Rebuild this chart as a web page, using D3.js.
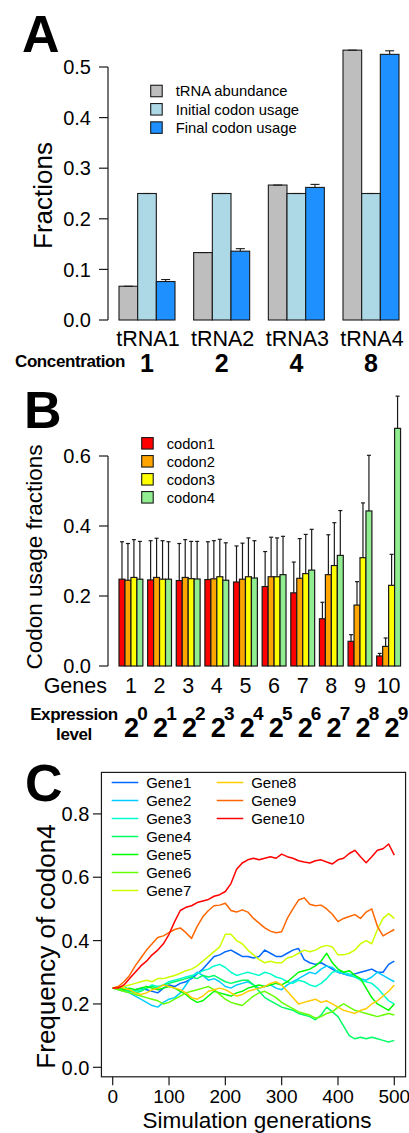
<!DOCTYPE html>
<html>
<head>
<meta charset="utf-8">
<script src="https://cdn.jsdelivr.net/npm/d3@7"></script>
<style>
  body { margin: 0; background: #fff; }
  svg { display: block; }
  text { font-family: "Liberation Sans", Arial, Helvetica, sans-serif; fill: #000; }
</style>
</head>
<body>
<svg id="fig" width="409" height="1133"></svg>
<script>
// ---------- Panel A: tRNA abundance vs codon usage ----------
const trnaNames = ["tRNA1", "tRNA2", "tRNA3", "tRNA4"];
const concentrations = ["1", "2", "4", "8"];
const seriesA = ["tRNA abundance", "Initial codon usage", "Final codon usage"];
const trnaAbundance = [0.0667, 0.1333, 0.2667, 0.5333];
const initialUsage = [0.25, 0.25, 0.25, 0.25];
const finalUsage = [0.076, 0.136, 0.262, 0.525];
const abundanceSd = [0, 0, 0, 0];
const initialSd = [0, 0, 0, 0];
const finalSd = [0.004, 0.005, 0.006, 0.007];
const ticksA = [0, 0.1, 0.2, 0.3, 0.4, 0.5];
const colorsA = ["#bebebe", "#add8e6", "#1e90ff"];

// ---------- Panel B: codon usage per gene ----------
const geneLabels = ["1", "2", "3", "4", "5", "6", "7", "8", "9", "10"];
const expressionPowers = ["0", "1", "2", "3", "4", "5", "6", "7", "8", "9"];
const codonNames = ["codon1", "codon2", "codon3", "codon4"];
const codon1 = [0.248, 0.246, 0.244, 0.247, 0.240, 0.227, 0.209, 0.135, 0.0705, 0.0286];
const codon2 = [0.245, 0.253, 0.253, 0.249, 0.248, 0.255, 0.2505, 0.261, 0.174, 0.056];
const codon3 = [0.253, 0.248, 0.2495, 0.255, 0.255, 0.255, 0.264, 0.287, 0.3095, 0.2305];
const codon4 = [0.248, 0.248, 0.2486, 0.245, 0.2514, 0.261, 0.274, 0.316, 0.443, 0.679];
const codon1Sd = [0.107, 0.112, 0.106, 0.108, 0.103, 0.100, 0.088, 0.047, 0.019, 0.0074];
const codon2Sd = [0.105, 0.112, 0.108, 0.109, 0.103, 0.113, 0.1135, 0.114, 0.067, 0.024];
const codon3Sd = [0.108, 0.110, 0.1065, 0.107, 0.111, 0.111, 0.112, 0.1225, 0.1565, 0.0885];
const codon4Sd = [0.108, 0.107, 0.1074, 0.107, 0.1066, 0.1095, 0.1165, 0.128, 0.159, 0.092];
const ticksB = [0, 0.2, 0.4, 0.6];
const colorsB = ["#ff0000", "#ffa500", "#ffff00", "#90ee90"];

// ---------- Panel C: codon4 frequency over simulation ----------
const generations = [0,10,20,30,40,50,60,70,80,90,100,110,120,130,140,150,160,170,180,190,200,
  210,220,230,240,250,260,270,280,290,300,310,320,330,340,350,360,370,380,390,400,
  410,420,430,440,450,460,470,480,490,500];
const gene1 = [0.25,0.25,0.245,0.24,0.245,0.25,0.245,0.24,0.235,0.25,0.26,0.255,0.265,0.27,0.28,0.295,0.31,0.33,0.35,0.355,0.365,
  0.37,0.36,0.35,0.35,0.345,0.35,0.37,0.36,0.35,0.35,0.36,0.37,0.375,0.34,0.33,0.325,0.33,0.32,0.31,0.30,
  0.295,0.29,0.295,0.30,0.305,0.31,0.30,0.30,0.325,0.335];
const gene2 = [0.25,0.245,0.24,0.235,0.225,0.215,0.205,0.195,0.19,0.205,0.215,0.22,0.235,0.26,0.285,0.30,0.29,0.275,0.28,0.27,0.255,
  0.25,0.26,0.265,0.27,0.26,0.25,0.255,0.26,0.25,0.245,0.26,0.27,0.28,0.29,0.30,0.295,0.31,0.32,0.315,0.30,
  0.295,0.29,0.285,0.28,0.275,0.285,0.30,0.29,0.28,0.27];
const gene3 = [0.25,0.25,0.255,0.245,0.24,0.245,0.25,0.26,0.255,0.26,0.27,0.275,0.28,0.285,0.29,0.295,0.305,0.31,0.32,0.325,0.315,
  0.30,0.29,0.295,0.30,0.295,0.29,0.30,0.295,0.285,0.28,0.27,0.265,0.275,0.27,0.26,0.255,0.265,0.28,0.30,0.305,
  0.30,0.295,0.285,0.275,0.27,0.265,0.25,0.23,0.21,0.20];
const gene4 = [0.25,0.25,0.245,0.24,0.235,0.24,0.25,0.255,0.25,0.26,0.265,0.27,0.275,0.28,0.285,0.28,0.29,0.285,0.29,0.28,0.27,
  0.265,0.27,0.275,0.275,0.26,0.24,0.22,0.21,0.20,0.19,0.185,0.18,0.17,0.165,0.16,0.15,0.165,0.19,0.175,0.16,
  0.13,0.10,0.09,0.095,0.09,0.095,0.09,0.085,0.08,0.085];
const gene5 = [0.25,0.25,0.245,0.25,0.245,0.25,0.255,0.25,0.245,0.25,0.255,0.25,0.24,0.23,0.215,0.205,0.21,0.225,0.24,0.235,0.23,
  0.225,0.235,0.24,0.25,0.255,0.26,0.255,0.26,0.265,0.26,0.27,0.285,0.30,0.305,0.31,0.32,0.335,0.36,0.33,0.31,
  0.30,0.305,0.29,0.28,0.25,0.22,0.20,0.19,0.18,0.20];
const gene6 = [0.25,0.245,0.24,0.235,0.23,0.225,0.22,0.215,0.21,0.20,0.205,0.215,0.225,0.235,0.24,0.245,0.25,0.255,0.245,0.23,0.215,
  0.205,0.20,0.195,0.21,0.225,0.235,0.24,0.23,0.22,0.205,0.195,0.185,0.175,0.17,0.165,0.155,0.16,0.17,0.175,0.19,
  0.20,0.19,0.18,0.175,0.17,0.165,0.16,0.165,0.17,0.165];
const gene7 = [0.25,0.25,0.255,0.26,0.265,0.27,0.275,0.27,0.28,0.28,0.285,0.29,0.297,0.305,0.31,0.32,0.335,0.35,0.365,0.38,0.42,
  0.42,0.40,0.39,0.37,0.355,0.34,0.33,0.335,0.33,0.33,0.345,0.35,0.36,0.37,0.365,0.37,0.38,0.385,0.38,0.355,
  0.355,0.36,0.37,0.39,0.40,0.39,0.435,0.47,0.485,0.47];
const gene8 = [0.25,0.255,0.25,0.245,0.235,0.23,0.235,0.245,0.25,0.26,0.255,0.25,0.245,0.235,0.22,0.215,0.225,0.24,0.245,0.25,0.245,
  0.235,0.225,0.23,0.24,0.245,0.25,0.255,0.265,0.27,0.26,0.24,0.22,0.20,0.205,0.21,0.215,0.205,0.21,0.20,0.19,
  0.18,0.175,0.17,0.18,0.185,0.20,0.21,0.225,0.24,0.26];
const gene9 = [0.25,0.255,0.27,0.29,0.32,0.345,0.37,0.39,0.41,0.415,0.425,0.435,0.44,0.425,0.407,0.445,0.475,0.495,0.51,0.512,0.518,
  0.495,0.49,0.497,0.49,0.47,0.455,0.44,0.43,0.425,0.428,0.47,0.50,0.528,0.535,0.515,0.51,0.512,0.50,0.483,0.46,
  0.47,0.476,0.482,0.47,0.49,0.50,0.445,0.415,0.425,0.435];
const gene10 = [0.25,0.25,0.26,0.28,0.30,0.32,0.335,0.355,0.37,0.39,0.42,0.46,0.495,0.505,0.51,0.52,0.525,0.53,0.54,0.545,0.555,
  0.58,0.625,0.645,0.655,0.66,0.655,0.66,0.665,0.66,0.673,0.665,0.66,0.652,0.648,0.645,0.652,0.655,0.648,0.642,0.655,
  0.66,0.675,0.685,0.665,0.646,0.665,0.685,0.69,0.705,0.67];
const geneNames = ["Gene1","Gene2","Gene3","Gene4","Gene5","Gene6","Gene7","Gene8","Gene9","Gene10"];
const geneSeries = [gene1, gene2, gene3, gene4, gene5, gene6, gene7, gene8, gene9, gene10];
const geneColors = ["#0066ff","#00ccff","#00ffcc","#00ff66","#00ff00","#66ff00","#ccff00","#ffcc00","#ff6600","#ff0000"];
const ticksCy = [0, 0.2, 0.4, 0.6, 0.8];
const ticksCx = [0, 100, 200, 300, 400, 500];

const svg = d3.select("#fig");
const ink = "#1a1a1a";

function yTicks(g, scale, ticks, x0, fmt) {
  g.append("line").attr("x1", x0).attr("x2", x0)
    .attr("y1", scale(ticks[0])).attr("y2", scale(ticks[ticks.length - 1]))
    .attr("stroke", ink).attr("stroke-width", 1.2);
  ticks.forEach(t => {
    g.append("line").attr("x1", x0 - 9).attr("x2", x0)
      .attr("y1", scale(t)).attr("y2", scale(t))
      .attr("stroke", ink).attr("stroke-width", 1.2);
    g.append("text").attr("x", x0 - 17).attr("y", scale(t)).attr("dy", "0.36em")
      .attr("text-anchor", "end").attr("font-size", 20).text(fmt(t));
  });
}
const f1 = d3.format(".1f");

// ================= Panel A =================
{
  const g = svg.append("g");
  const x = d3.scaleLinear().domain([0, 16]).range([100.33, 399]);
  const y = d3.scaleLinear().domain([0, 0.5]).range([320, 67]);
  const vals = [trnaAbundance, initialUsage, finalUsage];
  const sds = [abundanceSd, initialSd, finalSd];
  const bw = x(1) - x(0);

  vals.forEach((arr, s) => {
    arr.forEach((v, i) => {
      const u = 1 + 4 * i + s;
      g.append("rect").attr("x", x(u)).attr("y", y(v))
        .attr("width", bw).attr("height", y(0) - y(v))
        .attr("fill", colorsA[s]).attr("stroke", ink).attr("stroke-width", 1.1);
    });
  });
  // error bars
  vals.forEach((arr, s) => {
    arr.forEach((v, i) => {
      const cx = x(1 + 4 * i + s + 0.5);
      const top = y(v + sds[s][i]);
      g.append("line").attr("x1", cx).attr("x2", cx).attr("y1", y(v)).attr("y2", top)
        .attr("stroke", ink).attr("stroke-width", 1.1);
      g.append("line").attr("x1", cx - 4.5).attr("x2", cx + 4.5).attr("y1", top).attr("y2", top)
        .attr("stroke", ink).attr("stroke-width", 1.1);
    });
  });

  yTicks(g, y, ticksA, 108, f1);

  // group names and concentrations
  trnaNames.forEach((n, i) => {
    const cx = x(1 + 4 * i + 1.5);
    g.append("text").attr("x", cx + 1).attr("y", 346).attr("text-anchor", "middle")
      .attr("font-size", 21.5).text(n);
    g.append("text").attr("x", cx).attr("y", 372).attr("text-anchor", "middle")
      .attr("font-size", 25).attr("font-weight", "bold").text(concentrations[i]);
  });
  g.append("text").attr("x", 15).attr("y", 366.5).attr("font-size", 17)
    .attr("font-weight", "bold").attr("letter-spacing", -0.4).text("Concentration");

  // y title
  g.append("text").attr("transform", "translate(52,195.5) rotate(-90)")
    .attr("text-anchor", "middle").attr("font-size", 26).text("Fractions");

  // legend
  seriesA.forEach((n, i) => {
    const cy = 91 + 18.3 * i;
    g.append("rect").attr("x", 150.7).attr("y", cy - 5.75).attr("width", 11.5).attr("height", 11.5)
      .attr("fill", colorsA[i]).attr("stroke", ink).attr("stroke-width", 1.1);
    g.append("text").attr("x", 175.7).attr("y", cy).attr("dy", "0.36em")
      .attr("font-size", 14.8).text(n);
  });

  g.append("text").attr("x", 22).attr("y", 51.5).attr("font-size", 52)
    .attr("font-weight", "bold").text("A");
}

// ================= Panel B =================
{
  const g = svg.append("g");
  const x = d3.scaleLinear().domain([0, 48]).range([114.23, 400.55]);
  const y = d3.scaleLinear().domain([0, 0.6]).range([666, 456]);
  const vals = [codon1, codon2, codon3, codon4];
  const sds = [codon1Sd, codon2Sd, codon3Sd, codon4Sd];
  const bw = x(1) - x(0);
  const start = i => 0.8 + 4.8 * i;

  vals.forEach((arr, s) => {
    arr.forEach((v, i) => {
      const u = start(i) + s;
      g.append("rect").attr("x", x(u)).attr("y", y(v))
        .attr("width", bw).attr("height", y(0) - y(v))
        .attr("fill", colorsB[s]).attr("stroke", ink).attr("stroke-width", 1.2);
    });
  });
  vals.forEach((arr, s) => {
    arr.forEach((v, i) => {
      const cx = x(start(i) + s + 0.5);
      const top = y(v + sds[s][i]);
      g.append("line").attr("x1", cx).attr("x2", cx).attr("y1", y(v)).attr("y2", top)
        .attr("stroke", ink).attr("stroke-width", 1.2);
      g.append("line").attr("x1", cx - 2).attr("x2", cx + 2).attr("y1", top).attr("y2", top)
        .attr("stroke", ink).attr("stroke-width", 1.2);
    });
  });

  yTicks(g, y, ticksB, 108, f1);

  g.append("text").attr("x", 107).attr("y", 693).attr("text-anchor", "end")
    .attr("font-size", 21.5).text("Genes");
  geneLabels.forEach((n, i) => {
    g.append("text").attr("x", x(start(i) + 2)).attr("y", 693).attr("text-anchor", "middle")
      .attr("font-size", 21.5).text(n);
  });

  g.append("text").attr("x", 74).attr("y", 719.5).attr("text-anchor", "middle")
    .attr("font-size", 17).attr("font-weight", "bold").attr("letter-spacing", -0.4).text("Expression");
  g.append("text").attr("x", 74).attr("y", 740).attr("text-anchor", "middle")
    .attr("font-size", 17).attr("font-weight", "bold").attr("letter-spacing", -0.4).text("level");

  // 2^k expression labels
  const xe = d3.scaleLinear().domain([0, 9]).range([124, 384.5]);
  expressionPowers.forEach((p, i) => {
    g.append("text").attr("x", xe(i)).attr("y", 737).attr("font-size", 27)
      .attr("font-weight", "bold").text("2");
    g.append("text").attr("x", xe(i) + 13.2).attr("y", 720).attr("font-size", 19)
      .attr("font-weight", "bold").text(p);
  });

  g.append("text").attr("transform", "translate(42,557) rotate(-90)")
    .attr("text-anchor", "middle").attr("font-size", 22.5).text("Codon usage fractions");

  codonNames.forEach((n, i) => {
    const cy = 443.3 + 18 * i;
    g.append("rect").attr("x", 141.7).attr("y", cy - 5.75).attr("width", 11.5).attr("height", 11.5)
      .attr("fill", colorsB[i]).attr("stroke", ink).attr("stroke-width", 1.1);
    g.append("text").attr("x", 166.7).attr("y", cy).attr("dy", "0.36em")
      .attr("font-size", 14.7).text(n);
  });

  g.append("text").attr("x", 24).attr("y", 428).attr("font-size", 52)
    .attr("font-weight", "bold").text("B");
}

// ================= Panel C =================
{
  const g = svg.append("g");
  const x = d3.scaleLinear().domain([0, 500]).range([112.7, 394.3]);
  const y = d3.scaleLinear().domain([0, 0.8]).range([1067.3, 813.9]);
  const left = x(-20), right = x(520), top = y(0.931), bottom = y(-0.03);

  const line = d3.line().x((d, i) => x(generations[i])).y(d => y(d));
  geneSeries.forEach((arr, k) => {
    g.append("path").attr("d", line(arr)).attr("fill", "none")
      .attr("stroke", geneColors[k]).attr("stroke-width", 1.5)
      .attr("stroke-linejoin", "round");
  });

  g.append("rect").attr("x", left).attr("y", top)
    .attr("width", right - left).attr("height", bottom - top)
    .attr("fill", "none").attr("stroke", ink).attr("stroke-width", 1.2);

  ticksCy.forEach(t => {
    g.append("line").attr("x1", left - 8.5).attr("x2", left).attr("y1", y(t)).attr("y2", y(t))
      .attr("stroke", ink).attr("stroke-width", 1.2);
    g.append("text").attr("x", left - 12).attr("y", y(t)).attr("dy", "0.36em")
      .attr("text-anchor", "end").attr("font-size", 20).text(f1(t));
  });
  ticksCx.forEach(t => {
    g.append("line").attr("x1", x(t)).attr("x2", x(t)).attr("y1", bottom).attr("y2", bottom + 8.5)
      .attr("stroke", ink).attr("stroke-width", 1.2);
    g.append("text").attr("x", x(t)).attr("y", 1103).attr("text-anchor", "middle")
      .attr("font-size", 19).text(t);
  });

  g.append("text").attr("x", 257).attr("y", 1128).attr("text-anchor", "middle")
    .attr("font-size", 22.5).text("Simulation generations");
  g.append("text").attr("transform", "translate(55,946.5) rotate(-90)")
    .attr("text-anchor", "middle").attr("font-size", 26).text("Frequency of codon4");

  // legend, two columns
  geneNames.forEach((n, k) => {
    const col = k < 7 ? 0 : 1;
    const row = k < 7 ? k : k - 7;
    const lx = col === 0 ? 111.7 : 216.7;
    const cy = 782.5 + 18 * row;
    g.append("line").attr("x1", lx).attr("x2", lx + 26.6).attr("y1", cy).attr("y2", cy)
      .attr("stroke", geneColors[k]).attr("stroke-width", 1.5);
    g.append("text").attr("x", lx + 34.5).attr("y", cy).attr("dy", "0.36em")
      .attr("font-size", 15).text(n);
  });

  g.append("text").attr("x", 25).attr("y", 801).attr("font-size", 52)
    .attr("font-weight", "bold").text("C");
}
</script>
</body>
</html>
